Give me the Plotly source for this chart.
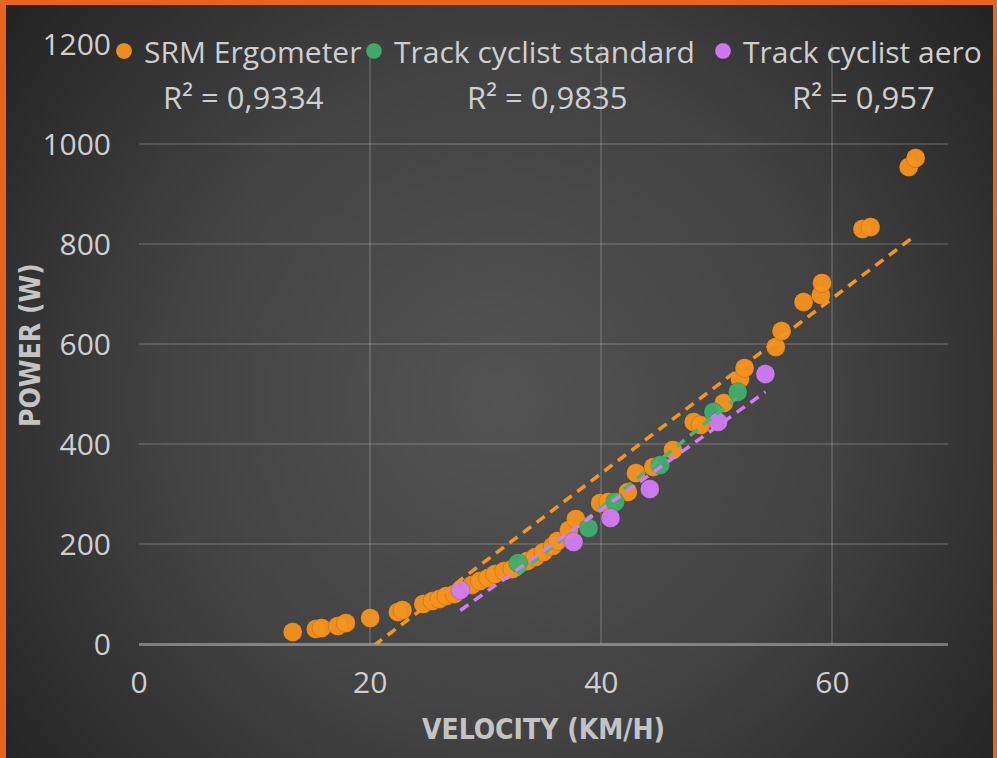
import base64
import numpy as np
import plotly.graph_objects as go

# ---- data ----
srm_v = [13.3, 15.3, 15.8, 17.2, 17.9, 20.0, 22.4, 22.8, 24.6, 25.4, 26.0, 26.6, 27.3,
         28.8, 29.5, 30.2, 30.8, 31.6, 32.3, 33.6, 34.3, 35.0, 35.8, 36.2, 37.2, 37.8,
         39.9, 40.6, 42.3, 43.0, 44.5, 46.2, 48.0, 48.6, 50.6, 52.0, 52.4, 55.1, 55.6,
         57.5, 59.0, 59.1, 62.6, 63.3, 66.6, 67.2]
srm_p = [24, 30, 32, 36, 42, 52, 64, 68, 80, 86, 90, 96, 100,
         118, 126, 132, 140, 146, 150, 166, 174, 184, 196, 206, 228, 250,
         282, 284, 304, 342, 354, 388, 444, 438, 482, 530, 552, 594, 626,
         684, 698, 722, 830, 834, 954, 972]
std_v = [32.8, 38.9, 41.2, 45.1, 49.7, 51.8]
std_p = [162, 232, 284, 358, 464, 504]
aero_v = [27.8, 37.6, 40.8, 44.2, 50.1, 54.2]
aero_p = [108, 204, 252, 310, 444, 540]

series_names = ["SRM Ergometer", "Track cyclist standard", "Track cyclist aero"]
r2_labels = ["R² = 0,9334", "R² = 0,9835", "R² = 0,957"]
r2_pos_x = [9.0, 35.3, 62.7]
r2_pos_y = [1094, 1094, 1094]
x_ticks = [0, 20, 40, 60]
y_ticks = [0, 200, 400, 600, 800, 1000, 1200]
x_title = "VELOCITY (KM/H)"
y_title = "POWER (W)"

colors = ["#F7941D", "#3FAE6E", "#D27CF5"]
line_colors = ["#F7941D", "#4DB373", "#D27CF5"]
legend_widths = [205, 304, 250]

W, H = 997, 758
L, R, T, B = 139, 49, 44, 114
pw, ph = W - L - R, H - T - B

TXT = "#CFCFCF"
FONT = "Open Sans"
TITLE_FONT = "DejaVu Sans Condensed, DejaVu Sans"

# ---- background (radial gradient with orange frame) ----
svg = f'''<svg xmlns="http://www.w3.org/2000/svg" width="{W}" height="{H}" viewBox="0 0 {W} {H}">
<defs><radialGradient id="g" cx="500" cy="400" r="620" gradientUnits="userSpaceOnUse">
<stop offset="0" stop-color="#535353"/><stop offset="0.55" stop-color="#424242"/><stop offset="1" stop-color="#242424"/>
</radialGradient></defs>
<rect x="0" y="0" width="{W}" height="{H}" fill="#E8631C"/>
<rect x="6" y="5" width="{W-10}" height="{H}" fill="url(#g)"/>
</svg>'''
bg_uri = "data:image/svg+xml;base64," + base64.b64encode(svg.encode()).decode()

fig = go.Figure()

all_v = [srm_v, std_v, aero_v]
all_p = [srm_p, std_p, aero_p]

for name, v, p, c, lw in zip(series_names, all_v, all_p, colors, legend_widths):
    fig.add_trace(go.Scatter(
        x=v, y=p, mode="markers", name=name, legendwidth=lw,
        marker=dict(size=19, color=c, opacity=0.95,
                    line=dict(width=1, color="rgba(0,0,0,0.15)")),
        cliponaxis=False,
    ))

# linear trendlines computed from the data
for v, p, c in zip(all_v, all_p, line_colors):
    k, b0 = np.polyfit(v, p, 1)
    xs = np.array([min(v), max(v)])
    fig.add_trace(go.Scatter(
        x=xs, y=k * xs + b0, mode="lines", showlegend=False, hoverinfo="skip",
        line=dict(color=c, width=3.5, dash="10px,7px"),
    ))

for txt, xv, yv in zip(r2_labels, r2_pos_x, r2_pos_y):
    fig.add_annotation(x=xv, y=yv, xref="x", yref="y", text=txt, showarrow=False,
                       font=dict(size=31, color=TXT, family=FONT))

# y-axis title placed as a rotated annotation
fig.add_annotation(x=(30 - L) / pw, y=(644 - 345) / ph, xref="paper", yref="paper",
                   text=f"<b>{y_title}</b>", textangle=-90, showarrow=False,
                   xanchor="center", yanchor="middle",
                   font=dict(size=28, color="#C4C4C4", family=TITLE_FONT))

grid_c = "rgba(255,255,255,0.14)"
fig.update_xaxes(range=[0, 70], tickvals=x_ticks, showgrid=True, gridcolor=grid_c,
                 gridwidth=1.5, zeroline=False, showline=False,
                 tickfont=dict(size=30, color=TXT, family=FONT),
                 ticklabelstandoff=18,
                 title=dict(text=f"<b>{x_title}</b>", standoff=18,
                            font=dict(size=28, color="#C4C4C4", family=TITLE_FONT)))
fig.update_yaxes(range=[0, 1200], tickvals=y_ticks, showgrid=True, gridcolor=grid_c,
                 gridwidth=1.5, zeroline=True, zerolinecolor="rgba(255,255,255,0.35)",
                 zerolinewidth=2.5, showline=False,
                 tickfont=dict(size=30, color=TXT, family=FONT),
                 ticklabelstandoff=27)

fig.update_layout(
    width=W, height=H,
    margin=dict(l=L, r=R, t=T, b=B, autoexpand=False),
    paper_bgcolor="rgba(0,0,0,0)", plot_bgcolor="rgba(0,0,0,0)",
    showlegend=True,
    legend=dict(orientation="h", x=-35 / pw, xanchor="left", y=1 + 19 / ph, yanchor="top",
                font=dict(size=30, color=TXT, family=FONT),
                bgcolor="rgba(0,0,0,0)", itemwidth=30, tracegroupgap=0,
                entrywidthmode="pixels"),
    images=[dict(source=bg_uri, xref="paper", yref="paper",
                 x=-L / pw, y=1 + T / ph, sizex=W / pw, sizey=H / ph,
                 xanchor="left", yanchor="top", sizing="stretch", layer="below")],
)

fig.write_html("out.html")
